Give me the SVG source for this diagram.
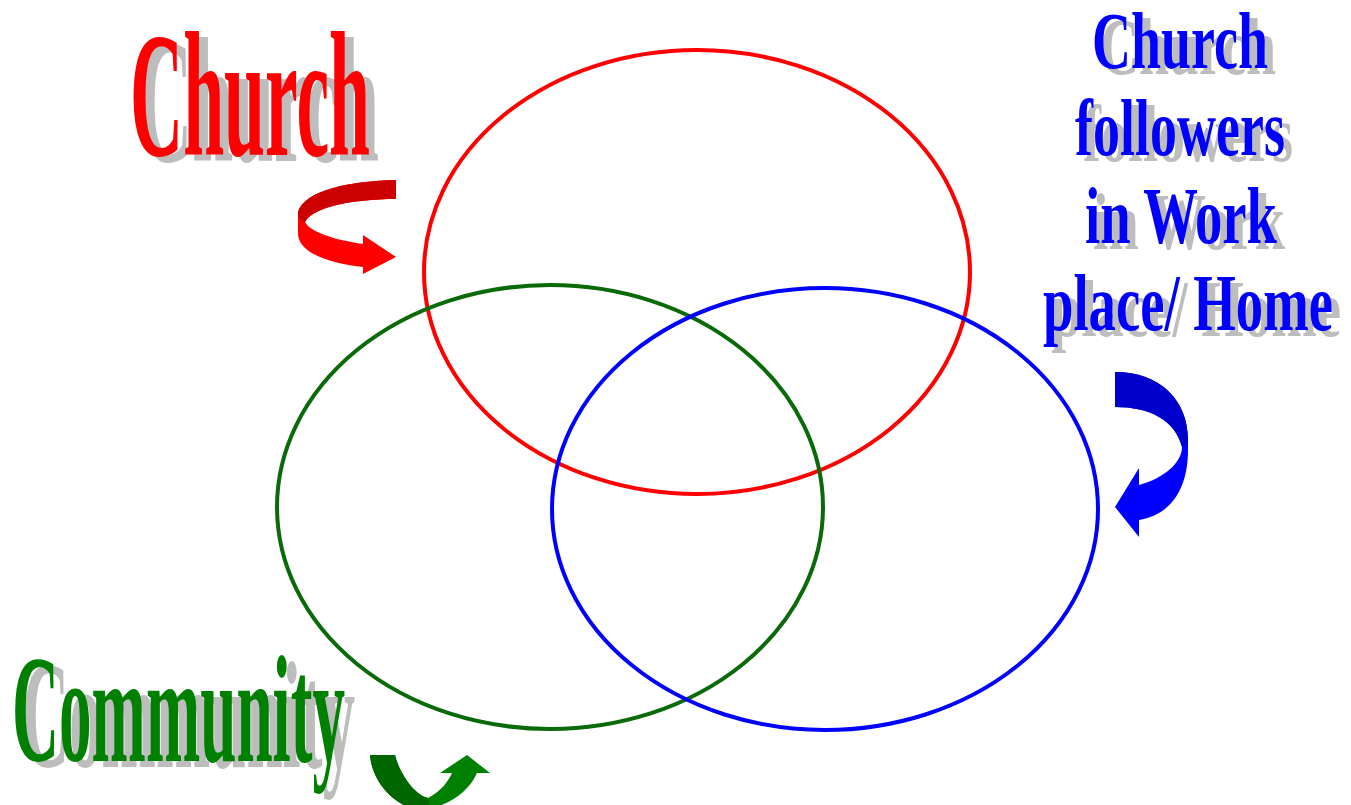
<svg xmlns="http://www.w3.org/2000/svg" width="1351" height="805" viewBox="0 0 1351 805">
<style>
.lbl{font-family:"Liberation Serif","Times New Roman",serif;font-weight:bold}
.sh{fill:#bdbdbd}
.ring{fill:none;stroke-width:4}
</style>
<rect width="1351" height="805" fill="#ffffff"/>
<g id="ring-church"><ellipse class="ring" cx="697" cy="272" rx="273" ry="222" stroke="#ff0000"/></g>
<g id="ring-community"><ellipse class="ring" cx="550" cy="507" rx="273" ry="222" stroke="#0a6a0a"/></g>
<g id="ring-work"><ellipse class="ring" cx="825" cy="509" rx="273" ry="221" stroke="#0000ff"/></g>
<g id="connectors">
<path d="M396,180 C350,181 305,190 298,212 L298,235 C300,255 335,264 363,267 L363,274 L396,257 L363,235 L363,244 C335,240 310,232 305,222 C312,208 350,199 396,199 Z" fill="#ff0000"/>
<path d="M396,180 C350,181 305,190 298,212 L299,218 L305,222 C312,208 350,199 396,199 Z" fill="#cc0000"/>
<path d="M1115,372 C1160,372 1188,400 1188,440 L1188,450 C1188,490 1170,515 1139,520 L1139,537 L1115,507 L1139,468 L1139,485 C1165,478 1182,462 1182,447 C1175,420 1150,407 1115,407 Z" fill="#0000ff"/>
<path d="M1115,372 C1160,372 1188,400 1188,440 L1188,445 L1182,447 C1175,420 1150,407 1115,407 Z" fill="#0000cc"/>
<path d="M370,755 L395,755 C400,775 415,795 428,798 C440,792 448,782 452,773 L440,773 L467,755 L490,773 L477,773 C470,790 450,805 430,808 L410,808 C390,800 372,780 370,755 Z" fill="#008000"/>
<path d="M370,755 L395,755 C400,775 415,795 428,798 L430,808 L410,808 C390,800 372,780 370,755 Z" fill="#006600"/>
</g>
<g id="label-church">
<text class="lbl sh" x="139" y="161" font-size="177" textLength="240" lengthAdjust="spacingAndGlyphs">Church</text>
<text class="lbl" x="130" y="155" font-size="177" textLength="240" lengthAdjust="spacingAndGlyphs" fill="#ff0000">Church</text>
</g>
<g id="label-community">
<text class="lbl sh" x="22" y="767" font-size="153" textLength="333" lengthAdjust="spacingAndGlyphs">Community</text>
<text class="lbl" x="12" y="761" font-size="153" textLength="333" lengthAdjust="spacingAndGlyphs" fill="#008000">Community</text>
</g>
<g id="label-work">
<text class="lbl sh" x="1100" y="74" font-size="80" textLength="176" lengthAdjust="spacingAndGlyphs">Church</text>
<text class="lbl sh" x="1083" y="161" font-size="80" textLength="210" lengthAdjust="spacingAndGlyphs">followers</text>
<text class="lbl sh" x="1093" y="249" font-size="80" textLength="192" lengthAdjust="spacingAndGlyphs">in Work</text>
<text class="lbl sh" x="1051" y="336" font-size="80" textLength="290" lengthAdjust="spacingAndGlyphs">place/ Home</text>
<text class="lbl" x="1092" y="68" font-size="80" textLength="176" lengthAdjust="spacingAndGlyphs" fill="#0000ff">Church</text>
<text class="lbl" x="1075" y="155" font-size="80" textLength="210" lengthAdjust="spacingAndGlyphs" fill="#0000ff">followers</text>
<text class="lbl" x="1085" y="243" font-size="80" textLength="192" lengthAdjust="spacingAndGlyphs" fill="#0000ff">in Work</text>
<text class="lbl" x="1043" y="330" font-size="80" textLength="290" lengthAdjust="spacingAndGlyphs" fill="#0000ff">place/ Home</text>
</g>
</svg>
